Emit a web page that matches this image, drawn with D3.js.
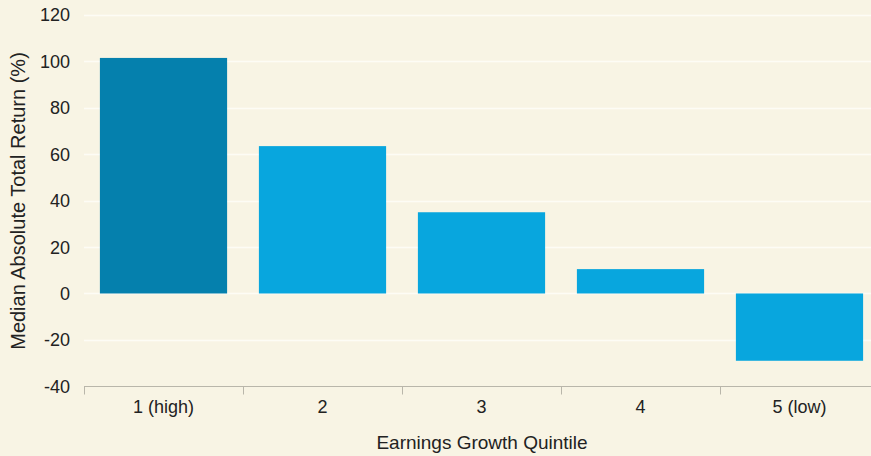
<!DOCTYPE html>
<html>
<head>
<meta charset="utf-8">
<script src="https://cdn.jsdelivr.net/npm/d3@7"></script>
<style>
  html, body { margin: 0; padding: 0; background: #f8f4e4; }
  svg { display: block; font-family: "Liberation Sans", Arial, sans-serif; }
</style>
</head>
<body>
<svg id="chart" width="871" height="456"></svg>
<script>
const categories = ['1 (high)', '2', '3', '4', '5 (low)'];
const returns = [101.5, 63.5, 35, 10.5, -29];
const yTicks = [-40, -20, 0, 20, 40, 60, 80, 100, 120];

const W = 871, H = 456;
const margin = { left: 84, right: -8, top: 15, bottom: 70 };
const TEXT = '#222';

const svg = d3.select('#chart');

const x = d3.scaleBand()
  .domain(categories)
  .range([margin.left, W - margin.right])
  .paddingInner(0.2)
  .paddingOuter(0.1);

const y = d3.scaleLinear()
  .domain([-40, 120])
  .range([H - margin.bottom + 0.3, margin.top]);

// gridlines
svg.append('g')
  .selectAll('line')
  .data(yTicks.filter(d => d > -40))
  .join('line')
  .attr('x1', margin.left)
  .attr('x2', W)
  .attr('y1', d => Math.round(y(d)) + 0.5)
  .attr('y2', d => Math.round(y(d)) + 0.5)
  .attr('stroke', '#fdfcf5')
  .attr('stroke-width', 1.5);

// bars
svg.append('g')
  .selectAll('rect')
  .data(categories.map((c, i) => ({ c, v: returns[i], i })))
  .join('rect')
  .attr('x', d => x(d.c))
  .attr('width', x.bandwidth())
  .attr('y', d => y(Math.max(0, d.v)))
  .attr('height', d => Math.abs(y(d.v) - y(0)))
  .attr('fill', d => d.i === 0 ? '#0580ad' : '#08a6de');

// x axis
const xAxisY = Math.round(y(-40)) + 0.5;
const xAxis = svg.append('g');
xAxis.append('line')
  .attr('x1', margin.left).attr('x2', W)
  .attr('y1', xAxisY).attr('y2', xAxisY)
  .attr('stroke', '#b9b6aa');

const step = x.step();
const bounds = d3.range(categories.length + 1).map(i => margin.left + i * step);
xAxis.selectAll('.tick')
  .data(bounds.filter(b => b < W))
  .join('line')
  .attr('x1', d => Math.round(d) + 0.5).attr('x2', d => Math.round(d) + 0.5)
  .attr('y1', xAxisY).attr('y2', xAxisY + 8)
  .attr('stroke', '#b9b6aa');

xAxis.selectAll('text')
  .data(categories)
  .join('text')
  .attr('x', d => x(d) + x.bandwidth() / 2)
  .attr('y', 413)
  .attr('text-anchor', 'middle')
  .attr('font-size', 18)
  .attr('fill', TEXT)
  .text(d => d);

// y labels
svg.append('g')
  .selectAll('text')
  .data(yTicks)
  .join('text')
  .attr('x', 70)
  .attr('y', d => y(d))
  .attr('dy', '0.36em')
  .attr('text-anchor', 'end')
  .attr('font-size', 18)
  .attr('fill', TEXT)
  .text(d => d);

// axis titles
svg.append('text')
  .attr('transform', 'translate(25, 201) rotate(-90)')
  .attr('text-anchor', 'middle')
  .attr('font-size', 20)
  .attr('fill', TEXT)
  .text('Median Absolute Total Return (%)');

svg.append('text')
  .attr('x', 482)
  .attr('y', 449)
  .attr('text-anchor', 'middle')
  .attr('font-size', 19)
  .attr('fill', TEXT)
  .text('Earnings Growth Quintile');
</script>
</body>
</html>
